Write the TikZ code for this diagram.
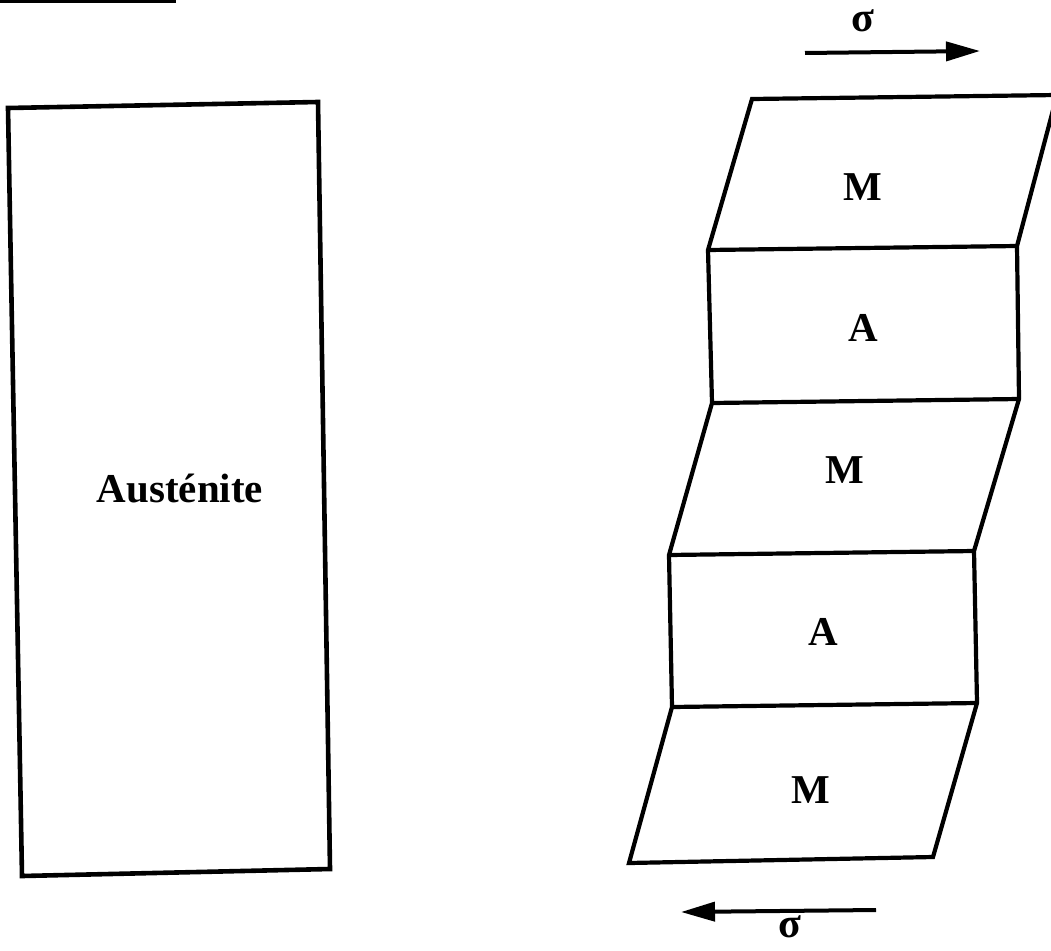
\documentclass[tikz,border=0pt]{standalone}
\usepackage{fontspec}
\setmainfont{Liberation Serif}
\usepackage{tikz}
\usetikzlibrary{arrows.meta,positioning}
\tikzstyle{outline} = [
    line width=4.2pt,
    draw=black,
    line join=miter
]
\tikzstyle{phase} = [
    font=\fontsize{41}{46}\selectfont\bfseries,
    inner sep=0pt
]
\tikzstyle{stress} = [
    line width=4pt,
    -{Triangle[length=34pt,width=19pt]},
    draw=black
]
\tikzstyle{sigma} = [
    font=\fontsize{42}{46}\selectfont\bfseries,
    inner sep=0pt
]
\begin{document}
\begin{tikzpicture}[x=1pt,y=-1pt]
    \useasboundingbox (0,0) rectangle (1051,950);
    \clip (0,0) rectangle (1051,950);
    % scan edge
    \draw[line width=3.5pt] (0,1) -- (176,1);
    % austenite block
    \coordinate (atl) at (8,108);
    \coordinate (atr) at (318,102);
    \coordinate (abr) at (330,869);
    \coordinate (abl) at (22,876);
    \draw[outline, line width=4.6pt] (atl) -- (atr) -- (abr) -- (abl) -- cycle;
    \node[phase] (aust) at (180,488) {Austénite};
    % sheared stack
    \coordinate (m1tl) at (752,99);
    \coordinate (m1tr) at (1057,95);
    \coordinate (a1tl) at (708,250);
    \coordinate (a1tr) at (1017,246);
    \coordinate (a1bl) at (712,403);
    \coordinate (a1br) at (1019,399);
    \coordinate (a2tl) at (669,555);
    \coordinate (a2tr) at (974,551);
    \coordinate (a2bl) at (672,707);
    \coordinate (a2br) at (977,703);
    \coordinate (m3bl) at (629,863);
    \coordinate (m3br) at (933,857);
    \draw[outline] (m1tl) -- (m1tr) -- (a1tr) -- (a1br) -- (a2tr) -- (a2br)
        -- (m3br) -- (m3bl) -- (a2bl) -- (a2tl) -- (a1bl) -- (a1tl) -- cycle;
    \foreach \l/\r in {a1tl/a1tr, a1bl/a1br, a2tl/a2tr, a2bl/a2br}
        \draw[outline] (\l) -- (\r);
    \node[phase] (m1) at (863,187) {M};
    \node[phase] (a1) at (863,328) {A};
    \node[phase] (m2) at (845,470) {M};
    \node[phase] (a2) at (823,632) {A};
    \node[phase] (m3) at (811,790) {M};
    % applied stress
    \coordinate (st1) at (805,53);
    \coordinate (sh1) at (980,51);
    \coordinate (st2) at (876,910);
    \coordinate (sh2) at (681,912);
    \draw[stress] (st1) -- (sh1);
    \draw[stress] (st2) -- (sh2);
    \node[sigma] (s1) at (863,21) {σ};
    \node[sigma] (s2) at (790,927) {σ};
\end{tikzpicture}
\end{document}
